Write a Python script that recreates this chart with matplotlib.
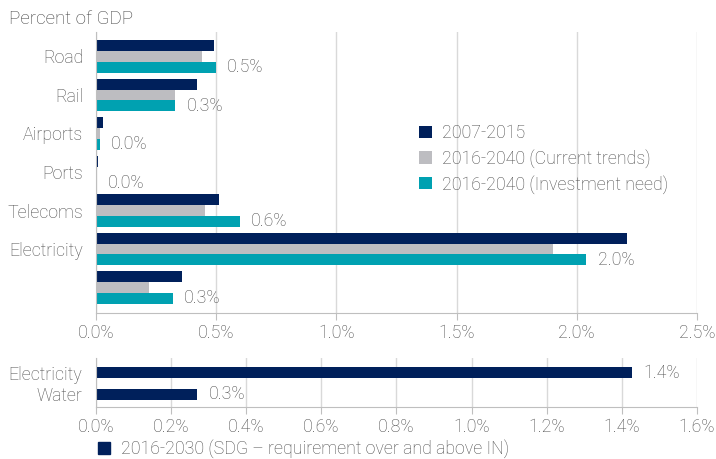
import matplotlib
matplotlib.use('Agg')
import matplotlib.pyplot as plt
import numpy as np
from matplotlib.patches import Patch

plt.rcParams['font.family'] = ['Roboto', 'DejaVu Sans']
plt.rcParams['font.weight'] = 'light'

TEXT = '#4d4d4d'
GRID = '#d9d9d9'
NAVY = '#00205b'
GRAY = '#bdbdc1'
TEAL = '#00a1b1'
FS = 12.8

# --- data (percent of GDP) ---
sectors = ['Road', 'Rail', 'Airports', 'Ports', 'Telecoms', 'Electricity', '']
hist_2007_2015 = [0.49, 0.42, 0.029, 0.008, 0.51, 2.21, 0.36]
current_trends = [0.44, 0.33, 0.015, 0.003, 0.455, 1.90, 0.22]
investment_need = [0.50, 0.33, 0.015, 0.004, 0.60, 2.04, 0.32]
series_names = ['2007-2015', '2016-2040 (Current trends)', '2016-2040 (Investment need)']

sdg_sectors = ['Electricity', 'Water']
sdg_values = [1.427, 0.27]
sdg_name = '2016-2030 (SDG \u2013 requirement over and above IN)'

fig = plt.figure(figsize=(7.16, 4.59), dpi=100)
ax = fig.add_axes([0.134, 0.318, 0.8395, 0.612])
ax2 = fig.add_axes([0.134, 0.1133, 0.8395, 0.1067])


def style_axis(a):
    a.set_axisbelow(True)
    a.grid(axis='x', color=GRID, linewidth=1)
    for s in ['top', 'right']:
        a.spines[s].set_visible(False)
    a.spines['left'].set_color('#bfbfbf')
    a.spines['bottom'].set_color('#bfbfbf')
    a.tick_params(axis='y', length=0, labelsize=FS, labelcolor=TEXT, pad=9)
    a.tick_params(axis='x', length=5, color='#bfbfbf', labelsize=FS,
                  labelcolor=TEXT, pad=3)


# --- top panel ---
y = np.arange(len(sectors))
h = 0.28
ax.barh(y - h, hist_2007_2015, height=h, color=NAVY, label=series_names[0])
ax.barh(y, current_trends, height=h, color=GRAY, label=series_names[1])
ax.barh(y + h, investment_need, height=h, color=TEAL, label=series_names[2])
for yi, v in zip(y, investment_need):
    ax.annotate(f'{v:.1f}%', (v, yi + h), xytext=(8, 0), textcoords='offset points',
                va='center', ha='left', fontsize=FS, color=TEXT)

ax.set_yticks(y)
ax.set_yticklabels(sectors)
ax.set_ylim(6.66, -0.63)
ax.set_xlim(0, 2.5)
ax.set_xticks(np.arange(0, 2.51, 0.5))
ax.set_xticklabels([f'{t:.1f}%' for t in np.arange(0, 2.51, 0.5)])
style_axis(ax)

leg = ax.legend(loc='upper left', bbox_to_anchor=(0.511, 0.729), frameon=False,
                fontsize=FS, handlelength=0.7, handleheight=0.7,
                handletextpad=0.6, labelspacing=0.38, labelcolor=TEXT)

fig.text(0.012, 0.958, 'Percent of GDP', fontsize=13.5, color='#404040', va='center')

# --- bottom panel ---
y2 = np.arange(len(sdg_sectors))
ax2.barh(y2, sdg_values, height=0.5, color=NAVY)
for yi, v in zip(y2, sdg_values):
    ax2.annotate(f'{v:.1f}%', (v, yi), xytext=(8, 0), textcoords='offset points',
                 va='center', ha='left', fontsize=FS, color=TEXT)
ax2.set_yticks(y2)
ax2.set_yticklabels(sdg_sectors)
ax2.set_ylim(1.57, -0.66)
ax2.set_xlim(0, 1.6)
ax2.set_xticks(np.arange(0, 1.61, 0.2))
ax2.set_xticklabels([f'{t:.1f}%' for t in np.arange(0, 1.61, 0.2)])
style_axis(ax2)
ax2.tick_params(axis='y', pad=10)

fig.legend(handles=[Patch(color=NAVY, label=sdg_name)], loc='center left',
           bbox_to_anchor=(0.114, 0.022), frameon=False, fontsize=FS,
           handlelength=0.7, handleheight=0.7, handletextpad=0.6, labelcolor=TEXT)

fig.savefig('out.png', dpi=100)
